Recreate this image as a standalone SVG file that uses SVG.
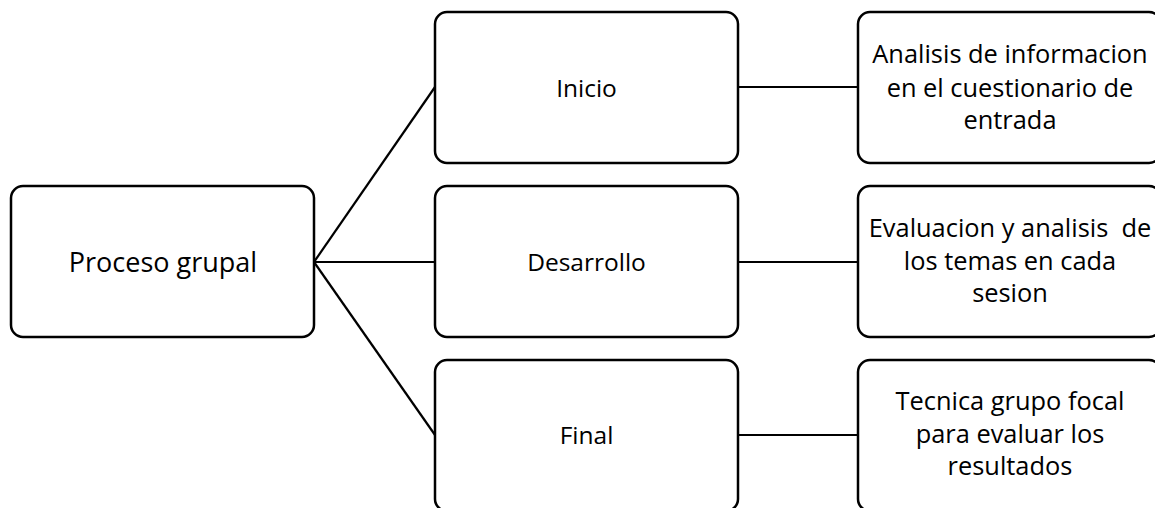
<svg xmlns="http://www.w3.org/2000/svg" width="1155" height="508" viewBox="0 0 1155 508">
<style>
.box{fill:#fff;stroke:#000;stroke-width:2.5}
.con{stroke:#000;stroke-width:2.2;fill:none}
text{font-family:"Open Sans","Liberation Sans",sans-serif;fill:#000;text-anchor:middle}
.big{font-size:27px}
.mid{font-size:24.5px}
.rt{font-size:25.4px}
</style>
<rect width="1155" height="508" fill="#fff"/>
<g id="connectors">
<line class="con" x1="314" y1="262" x2="435" y2="87"/>
<line class="con" x1="314" y1="262" x2="435" y2="262"/>
<line class="con" x1="314" y1="262" x2="435" y2="435"/>
<line class="con" x1="738" y1="87" x2="858" y2="87"/>
<line class="con" x1="738" y1="262" x2="858" y2="262"/>
<line class="con" x1="738" y1="435" x2="858" y2="435"/>
</g>
<g id="proceso">
<rect class="box" x="11" y="186" width="303" height="151" rx="12"/>
<text class="big" x="163" y="272">Proceso grupal</text>
</g>
<g id="inicio">
<rect class="box" x="435" y="12" width="303" height="151" rx="12"/>
<text class="mid" x="586.5" y="97">Inicio</text>
</g>
<g id="desarrollo">
<rect class="box" x="435" y="186" width="303" height="151" rx="12"/>
<text class="mid" x="586.5" y="271">Desarrollo</text>
</g>
<g id="final">
<rect class="box" x="435" y="360" width="303" height="151" rx="12"/>
<text class="mid" x="586.5" y="444">Final</text>
</g>
<g id="analisis">
<rect class="box" x="858" y="12" width="303" height="151" rx="12"/>
<text class="rt" x="1010" y="63">Analisis de informacion</text>
<text class="rt" x="1010" y="97">en el cuestionario de</text>
<text class="rt" x="1010" y="129">entrada</text>
</g>
<g id="evaluacion">
<rect class="box" x="858" y="186" width="303" height="151" rx="12"/>
<text class="rt" x="1010" y="237" xml:space="preserve">Evaluacion y analisis  de</text>
<text class="rt" x="1010" y="270">los temas en cada</text>
<text class="rt" x="1010" y="302">sesion</text>
</g>
<g id="tecnica">
<rect class="box" x="858" y="360" width="303" height="151" rx="12"/>
<text class="rt" x="1010" y="410">Tecnica grupo focal</text>
<text class="rt" x="1010" y="443">para evaluar los</text>
<text class="rt" x="1010" y="475">resultados</text>
</g>
</svg>
